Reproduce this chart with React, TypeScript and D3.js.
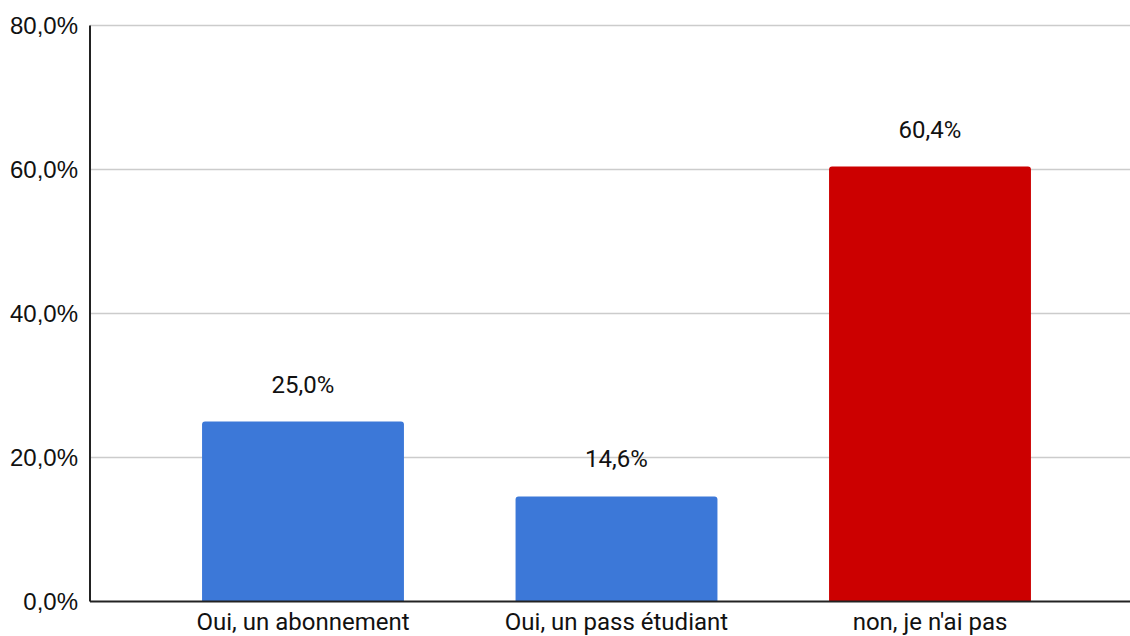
import React from "react";
import * as d3 from "d3";

const categories = ["Oui, un abonnement", "Oui, un pass étudiant", "non, je n'ai pas"];
const values = [0.25, 0.146, 0.604];
const barColors = ["#3c78d8", "#3c78d8", "#cc0000"];
const yTicks = [0, 0.2, 0.4, 0.6, 0.8];

const W = 1130;
const H = 636;

const fmt = (v: number) => (v * 100).toFixed(1).replace(".", ",") + "%";

function topRoundedRect(x: number, y: number, w: number, h: number, r: number) {
  const rr = Math.min(r, h / 2, w / 2);
  return `M${x},${y + h}V${y + rr}Q${x},${y} ${x + rr},${y}H${x + w - rr}Q${x + w},${y} ${x + w},${y + rr}V${y + h}Z`;
}

export default function App() {
  const axisX = 90;
  const y = d3.scaleLinear().domain([0, 0.8]).range([601.5, 25.5]);
  const x = d3
    .scaleBand<string>()
    .domain(categories)
    .range([146.25, 1086.75])
    .paddingInner(0.356)
    .paddingOuter(0.178);

  return (
    <svg
      width={W}
      height={H}
      style={{ position: "absolute", left: 0, top: 0, background: "#fff" }}
    >
      <rect x={0} y={0} width={W} height={H} fill="#fff" />
      {yTicks.map((t) => (
        <g key={t}>
          {t > 0 && (
            <line x1={axisX} x2={W} y1={y(t)} y2={y(t)} stroke="#cccccc" strokeWidth={1.5} />
          )}
          <text
            x={78}
            y={y(t)}
            dy="0.36em"
            textAnchor="end"
            fontFamily="'Liberation Sans', Arial, sans-serif"
            fontSize={24}
            fill="#111"
          >
            {fmt(t)}
          </text>
        </g>
      ))}
      {categories.map((c, i) => {
        const bx = x(c)!;
        const bw = x.bandwidth();
        const by = y(values[i]);
        return (
          <g key={c}>
            <path d={topRoundedRect(bx, by, bw, y(0) - by, 3)} fill={barColors[i]} />
            <text
              x={bx + bw / 2}
              y={by - 29}
              textAnchor="middle"
              fontFamily="Roboto, sans-serif"
              fontSize={24}
              fill="#111"
            >
              {fmt(values[i])}
            </text>
            <text
              x={bx + bw / 2}
              y={629.5}
              textAnchor="middle"
              fontFamily="Roboto, sans-serif"
              fontSize={24}
              fill="#111"
            >
              {c}
            </text>
          </g>
        );
      })}
      <line x1={axisX} x2={axisX} y1={y(0.8)} y2={y(0)} stroke="#222" strokeWidth={2} />
      <line x1={axisX} x2={W} y1={y(0)} y2={y(0)} stroke="#222" strokeWidth={2} />
    </svg>
  );
}
